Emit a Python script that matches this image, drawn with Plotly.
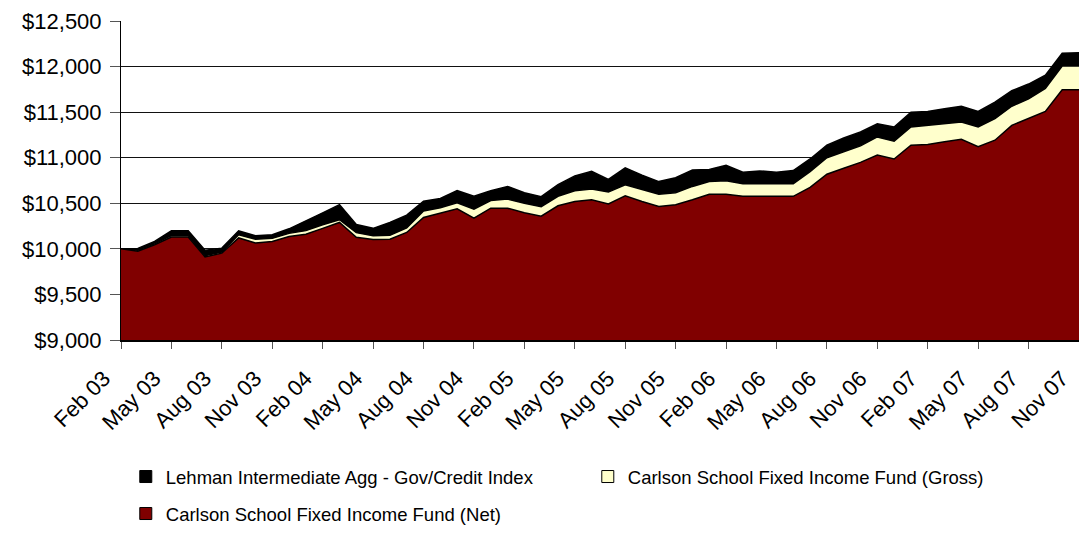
import pandas as pd
import plotly.graph_objects as go

months = pd.date_range("2003-02-01", periods=58, freq="MS").strftime("%b %y").tolist()

lehman = [10000, 10005, 10082, 10198, 10198, 9985, 10008, 10198, 10143, 10155,
          10220, 10305, 10395, 10485, 10268, 10225, 10290, 10370, 10523, 10553,
          10640, 10577, 10638, 10685, 10615, 10573, 10704, 10800, 10850, 10762,
          10888, 10808, 10738, 10781, 10865, 10872, 10918, 10841, 10855, 10841,
          10859, 10986, 11138, 11217, 11283, 11373, 11337, 11500, 11507, 11536,
          11565, 11507, 11609, 11735, 11808, 11906, 12145, 12152]

gross = [10000, 9985, 10055, 10145, 10145, 9925, 9965, 10155, 10105, 10115,
         10170, 10200, 10265, 10320, 10178, 10145, 10150, 10230, 10415, 10450,
         10505, 10435, 10531, 10546, 10500, 10462, 10577, 10638, 10658, 10623,
         10704, 10654, 10600, 10615, 10685, 10740, 10746, 10714, 10714, 10714,
         10714, 10848, 11000, 11065, 11130, 11228, 11181, 11337, 11355, 11373,
         11391, 11337, 11428, 11565, 11645, 11761, 12007, 12007]

net = [10000, 9975, 10045, 10130, 10130, 9912, 9953, 10120, 10065, 10080,
       10135, 10160, 10225, 10290, 10128, 10104, 10106, 10180, 10345, 10390,
       10440, 10338, 10446, 10446, 10396, 10358, 10473, 10519, 10538, 10492,
       10581, 10519, 10465, 10485, 10538, 10600, 10600, 10576, 10576, 10576,
       10576, 10674, 10819, 10884, 10949, 11029, 10986, 11138, 11145, 11174,
       11203, 11120, 11192, 11355, 11435, 11507, 11746, 11746]

tick_labels = months[::3]

series = [
    ("Lehman Intermediate Agg - Gov/Credit Index", lehman, "#000000", "legend"),
    ("Carlson School Fixed Income Fund (Gross)", gross, "#FFFFCC", "legend"),
    ("Carlson School Fixed Income Fund (Net)", net, "#800000", "legend2"),
]

fig = go.Figure()
for name, vals, color, lg in series:
    fig.add_trace(go.Scatter(
        x=months, y=vals, mode="lines", fill="tozeroy", fillcolor=color,
        line=dict(color="#000000", width=1.5), name=name, showlegend=False,
        hoverinfo="skip",
    ))
# legend proxies (square symbols)
for name, vals, color, lg in series:
    fig.add_trace(go.Bar(
        x=[None], y=[None], name=name,
        marker=dict(color=color, line=dict(color="#000000", width=1)),
        legend=lg, showlegend=True,
    ))

font_main = "Liberation Sans, Arial, sans-serif"

fig.update_layout(
    width=1079, height=533,
    margin=dict(l=121, r=0, t=21, b=192),
    paper_bgcolor="white", plot_bgcolor="white",
    font=dict(family=font_main, color="#000000"),
    xaxis=dict(
        type="category", range=[0, 57], tickmode="array", tickvals=tick_labels, ticktext=tick_labels,
        tickangle=-45, tickfont=dict(size=22, family=font_main, color="#000000"),
        ticks="outside", ticklen=7, tickcolor="#555555", showgrid=False,
        ticklabelstandoff=8, ticklabelshift=-17,
        showline=True, linecolor="#000000", linewidth=2, zeroline=False,
    ),
    yaxis=dict(
        range=[9000, 12500], dtick=500, tick0=9000, tickprefix="$", tickformat=",",
        tickfont=dict(size=22, family=font_main, color="#000000"),
        ticks="outside", ticklen=10, tickcolor="#555555", ticklabelstandoff=4,
        showgrid=True, gridcolor="#111111", gridwidth=1,
        showline=True, linecolor="#000000", linewidth=1, zeroline=False,
    ),
    legend=dict(
        orientation="h", x=0.005, xanchor="left", y=-0.425, yanchor="middle",
        font=dict(size=18.5, family=font_main, color="#000000"),
        entrywidth=417, entrywidthmode="pixels", bgcolor="rgba(0,0,0,0)",
    ),
    legend2=dict(
        orientation="h", x=0.005, xanchor="left", y=-0.547, yanchor="middle",
        font=dict(size=18.5, family=font_main, color="#000000"), bgcolor="rgba(0,0,0,0)",
    ),
    showlegend=True,
)

fig.write_html("out.html")
